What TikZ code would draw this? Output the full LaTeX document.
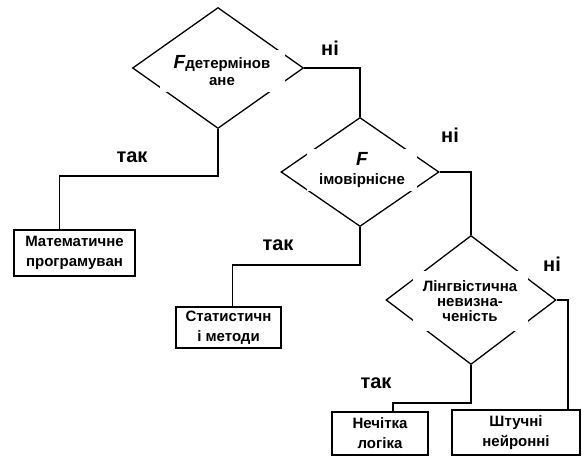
\documentclass[tikz,border=0pt]{standalone}
\usepackage{fontspec}
\setmainfont{Liberation Sans}
\usetikzlibrary{shapes.geometric,positioning}
\newcommand{\bigF}{{\fontsize{19}{19}\selectfont\itshape F}}

\begin{document}
\begin{tikzpicture}[x=1pt,y=-1pt,line width=1.3pt,
    decision/.style={diamond,draw,inner sep=0pt},
    cover/.style={fill=white,inner sep=0pt,align=center,font=\bfseries\fontsize{15}{17}\selectfont},
    block/.style={draw,inner sep=0pt,align=center,font=\bfseries\fontsize{15}{20}\selectfont},
    lbl/.style={font=\bfseries\fontsize{20}{22}\selectfont}]
  \useasboundingbox (0,0) rectangle (582,457);
  % decisions
  \node[decision,minimum width=171,minimum height=121] (d1) at (218,68) {};
  \node[cover,minimum width=125,minimum height=42] (t1) at (222,71) {\bigF детермінов\\ане};
  \node[decision,minimum width=158,minimum height=109] (d2) at (360,172) {};
  \node[cover,minimum width=110,minimum height=42,font=\bfseries\fontsize{15}{19}\selectfont] (t2) at (362,170) {\bigF\\імовірнісне};
  \node[decision,minimum width=170,minimum height=129] (d3) at (471,300) {};
  \node[cover,minimum width=115,minimum height=60,font=\bfseries\fontsize{15}{15}\selectfont] (t3) at (470,301) {Лінгвістична\\невизна-\\ченість};
  % outcomes
  \node[block,minimum width=121,minimum height=46] (b1) at (74.5,253) {Математичне\\програмуван};
  \node[block,minimum width=105,minimum height=41] (b2) at (228.5,327.5) {Статистичн\\і методи};
  \node[block,minimum width=96,minimum height=43] (b3) at (380,433.5) {Нечітка\\логіка};
  \node[block,minimum width=128,minimum height=45] (b4) at (516,432.5) {Штучні\\нейронні};
  % branch labels
  \node[lbl] (n1) at (330,48) {ні};
  \node[lbl] (n2) at (450,135) {ні};
  \node[lbl] (n3) at (552,264) {ні};
  \node[lbl] (y1) at (132,157) {так};
  \node[lbl] (y2) at (278,245) {так};
  \node[lbl] (y3) at (376,383) {так};
  % connectors
  \draw (d1.east) -| (d2.north);
  \draw (d1.south) -- ++(0,47) -| ([xshift=-15]b1.north);
  \draw (d2.east) -| (d3.north);
  \draw (d2.south) -- ++(0,38) -| ([xshift=4]b2.north);
  \draw (d3.south) -- ++(0,38) -| ([xshift=13]b3.north);
  \draw (d3.east) -| ([xshift=52]b4.north);
\end{tikzpicture}
\end{document}
